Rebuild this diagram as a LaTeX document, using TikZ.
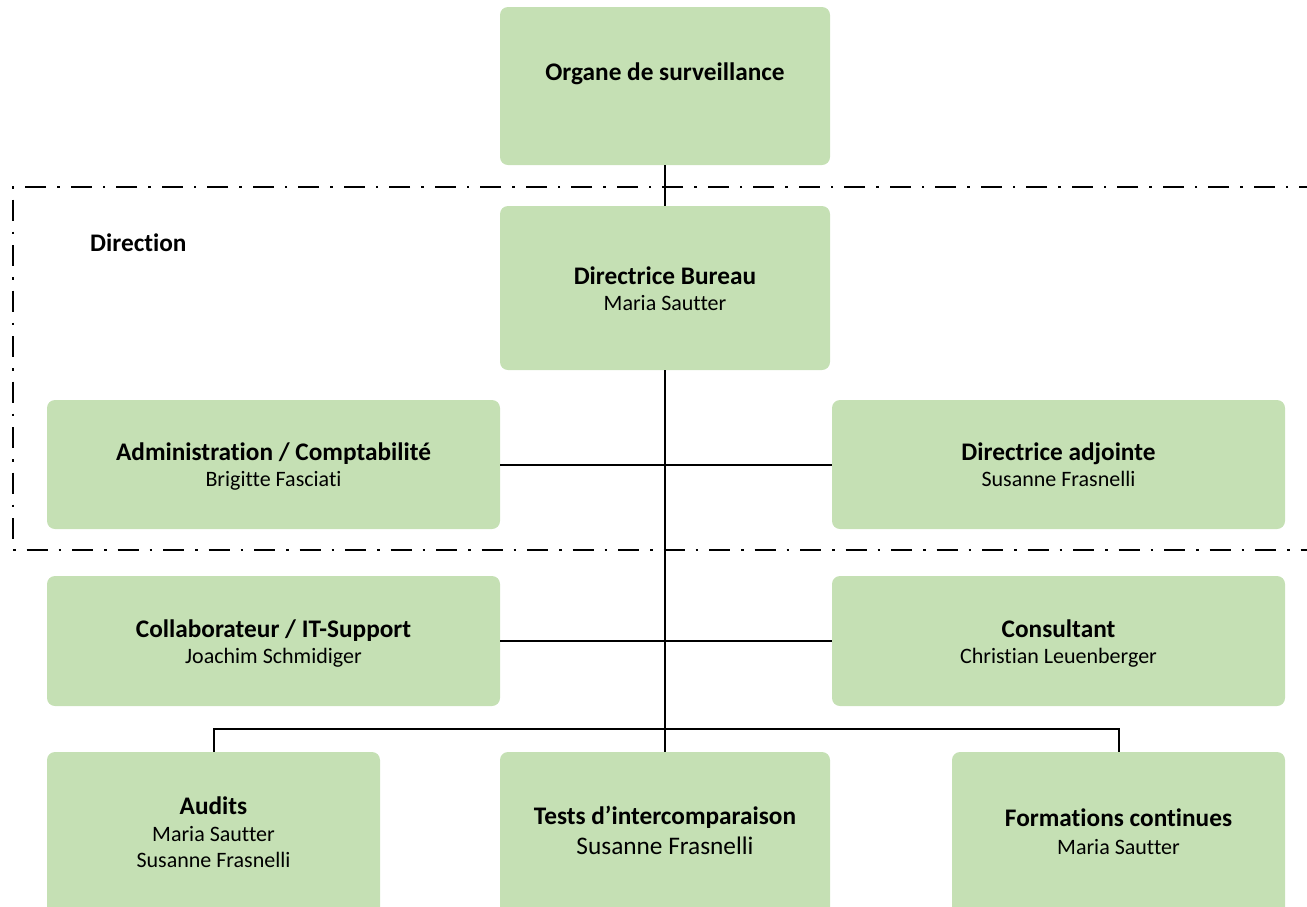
\documentclass[tikz,border=0pt]{standalone}
\usepackage{fontspec}
\setmainfont{Carlito}[Ligatures=NoCommon]
\definecolor{boxgreen}{HTML}{C5E0B4}
\begin{document}
\begin{tikzpicture}[x=1pt,y=-1pt,
  box/.style={draw=none,fill=boxgreen,rounded corners=8pt,inner sep=0pt},
  ttl/.style={inner sep=0pt,font=\fontsize{25.3}{28}\selectfont\bfseries,text height=0.7em,text depth=0.2em},
  nm/.style={inner sep=0pt,font=\fontsize{22}{26}\selectfont,text height=0.7em,text depth=0.2em},
  nmbig/.style={inner sep=0pt,font=\fontsize{25.3}{28}\selectfont,text height=0.7em,text depth=0.2em},
  conn/.style={draw=black,line width=2pt},
  frame/.style={draw=black,line width=2.6pt,dash pattern=on 21pt off 11pt on 2.5pt off 11pt}]
\useasboundingbox (0,0) rectangle (1307,906);
% boxes
\node[box,minimum width=330,minimum height=158] (org) at (665,86) {};
\node[box,minimum width=330,minimum height=164] (db) at (665,288) {};
\node[box,minimum width=453,minimum height=129] (adm) at (273.5,464.5) {};
\node[box,minimum width=453,minimum height=129] (adj) at (1058.5,464.5) {};
\node[box,minimum width=453,minimum height=130] (col) at (273.5,641) {};
\node[box,minimum width=453,minimum height=130] (con) at (1058.5,641) {};
\node[box,minimum width=333,minimum height=170] (aud) at (213.5,837) {};
\node[box,minimum width=330,minimum height=170] (tst) at (665,837) {};
\node[box,minimum width=333,minimum height=170] (frm) at (1118.5,837) {};
% texts
\node[ttl] (orgt) at (665,78) {Organe de surveillance};
\node[ttl] (dbt) at (665,282) {Directrice Bureau};
\node[nm] (dbn) at (665,307.5) {Maria Sautter};
\node[ttl] (admt) at (273.5,458) {Administration / Comptabilité};
\node[nm] (admn) at (273.5,483.5) {Brigitte Fasciati};
\node[ttl] (adjt) at (1058.5,458) {Directrice adjointe};
\node[nm] (adjn) at (1058.5,483.5) {Susanne Frasnelli};
\node[ttl] (colt) at (273.5,635) {Collaborateur / IT-Support};
\node[nm] (coln) at (273.5,660.5) {Joachim Schmidiger};
\node[ttl] (cont) at (1058.5,635) {Consultant};
\node[nm] (conn) at (1058.5,660.5) {Christian Leuenberger};
\node[ttl] (audt) at (213.5,812) {Audits};
\node[nm] (audn1) at (213.5,838.5) {Maria Sautter};
\node[nm] (audn2) at (213.5,864.5) {Susanne Frasnelli};
\node[ttl] (tstt) at (665,822) {Tests d’intercomparaison};
\node[nmbig] (tstn) at (665,851.5) {Susanne Frasnelli};
\node[ttl] (frmt) at (1118.5,824) {Formations continues};
\node[nm] (frmn) at (1118.5,851.5) {Maria Sautter};
\node[ttl,anchor=west] (dir) at (90,249) {Direction};
% frame
\coordinate (f1) at (1320,187);
\coordinate (f2) at (13,187);
\coordinate (f3) at (13,550);
\coordinate (f4) at (1320,550);
\draw[frame] (f1) -- (f2) -- (f3) -- (f4);
% connectors
\draw[conn] (org.south) -- (db.north);
\draw[conn] (db.south) -- (tst.north);
\draw[conn] (adm.east) -- (adj.west);
\draw[conn] (col.east) -- (con.west);
\coordinate (bus) at (665,729);
\draw[conn] (aud.north) |- (bus) -| (frm.north);
\end{tikzpicture}
\end{document}
